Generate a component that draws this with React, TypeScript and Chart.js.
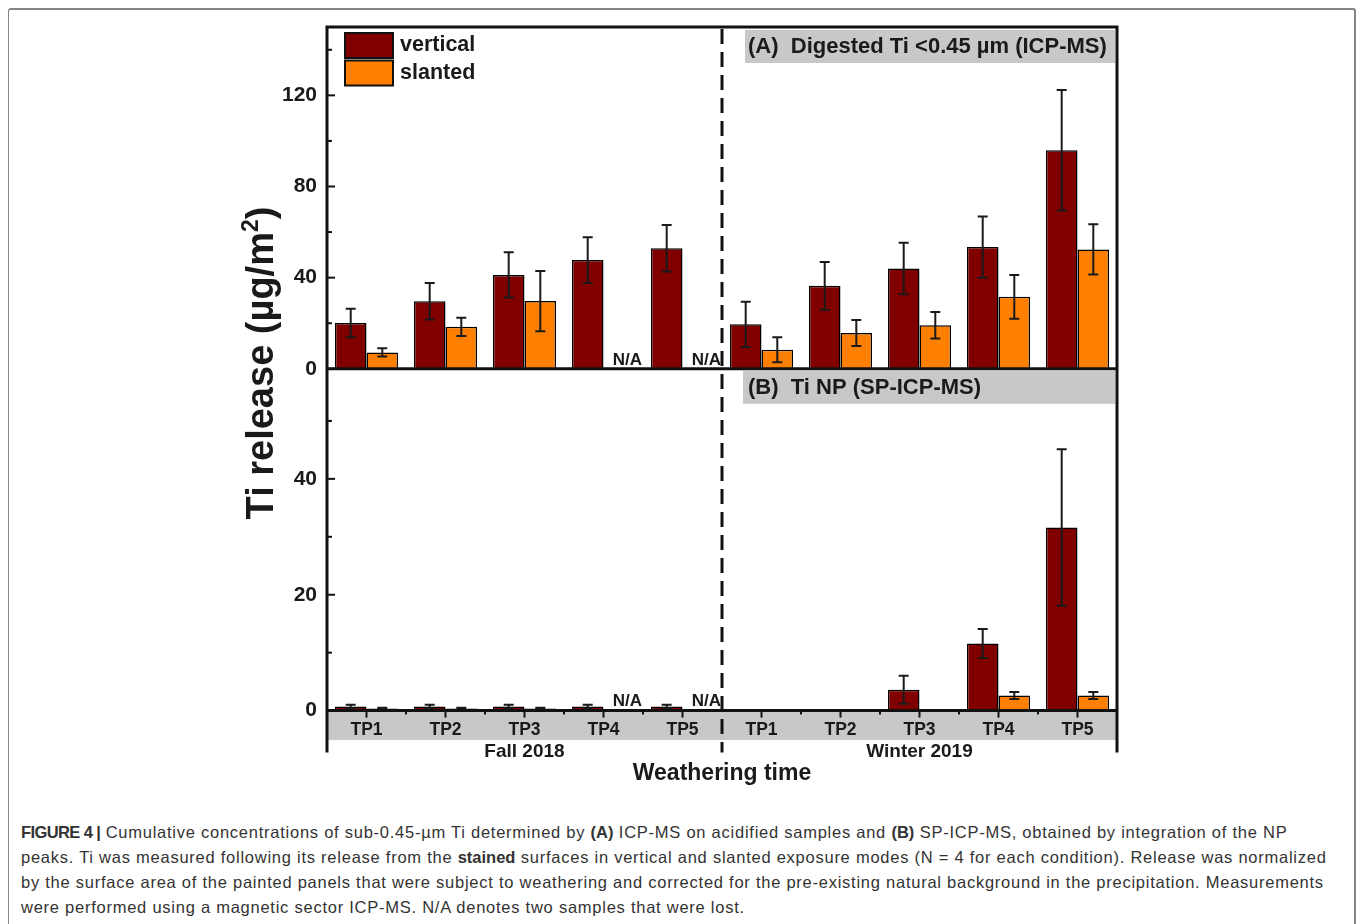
import React, { useEffect, useRef } from 'react';
import { Chart, registerables } from 'chart.js';

Chart.register(...registerables);

// ---------- data ----------
const categories = ['TP1', 'TP2', 'TP3', 'TP4', 'TP5', 'TP1', 'TP2', 'TP3', 'TP4', 'TP5'];
const seasons = ['Fall 2018', 'Winter 2019'];
const seriesNames = ['vertical', 'slanted'];
const panelLabels = ['(A)  Digested Ti <0.45 µm (ICP-MS)', '(B)  Ti NP (SP-ICP-MS)'];

// Panel A: digested Ti < 0.45 µm (ICP-MS), µg/m²
const icpVertical = [20.1, 29.6, 41.2, 47.7, 52.9, 19.5, 36.4, 44.0, 53.4, 95.9];
const icpVerticalErr = [6.3, 8.0, 9.9, 10.0, 10.2, 9.9, 10.5, 11.3, 13.4, 26.4];
const icpSlanted = [7.2, 18.4, 29.7, null, null, 8.4, 15.7, 19.1, 31.6, 52.4];
const icpSlantedErr = [1.8, 4.0, 13.2, null, null, 5.5, 5.7, 5.8, 9.6, 11.0];

// Panel B: Ti NP (SP-ICP-MS), µg/m²
const npVertical = [0.7, 0.7, 0.7, 0.7, 0.7, null, null, 3.6, 11.6, 31.6];
const npVerticalErr = [0.3, 0.3, 0.3, 0.3, 0.3, null, null, 2.4, 2.5, 13.5];
const npSlanted = [0.35, 0.35, 0.35, null, null, null, null, null, 2.6, 2.6];
const npSlantedErr = [0.15, 0.15, 0.15, null, null, null, null, null, 0.6, 0.6];

// samples that were lost (slanted, Fall TP4/TP5)
const lostSlanted = [false, false, false, true, true, false, false, false, false, false];

const axisA = { min: 0, max: 150, step: 40 };
const axisB = { min: 0, max: 59, step: 20 };

// ---------- style ----------
const FONT = "'Liberation Sans', Arial, Helvetica, sans-serif";
const INK = '#1a1a1a';
const VERT_COLOR = '#800000';
const SLANT_COLOR = '#FF8000';
const GRAY = '#c8c8c8';

const decor = {
  id: 'decor',
  beforeDatasetsDraw(chart: any) {
    const { ctx, chartArea: ca, scales } = chart;
    const yA = scales.yA;
    const x = scales.x;
    ctx.save();
    ctx.fillStyle = GRAY;
    const mid = (x.getPixelForValue(4) + x.getPixelForValue(5)) / 2;
    const boxL = mid + 23;
    const aBase = yA.getPixelForValue(0);
    ctx.fillRect(boxL, ca.top + 3, ca.right - 2 - boxL, 33);
    ctx.fillRect(boxL - 2, aBase + 2, ca.right - boxL, 33);
    ctx.fillStyle = INK;
    ctx.font = `bold 22px ${FONT}`;
    ctx.textBaseline = 'middle';
    ctx.textAlign = 'left';
    ctx.fillText(panelLabels[0], boxL + 3, ca.top + 20);
    ctx.fillText(panelLabels[1], boxL + 3, aBase + 19);
    ctx.restore();
  },
  afterDatasetsDraw(chart: any) {
    const { ctx, chartArea: ca, scales } = chart;
    const x = scales.x;
    const yA = scales.yA;
    const yB = scales.yB;
    const y0 = yB.getPixelForValue(0);
    const aBase = yA.getPixelForValue(0);
    const axisBottom = y0 + 42;
    ctx.save();

    // error bars
    ctx.strokeStyle = INK;
    ctx.lineWidth = 2;
    chart.data.datasets.forEach((ds: any, i: number) => {
      const meta = chart.getDatasetMeta(i);
      const ys = scales[ds.yAxisID];
      meta.data.forEach((el: any, j: number) => {
        const v = ds.data[j];
        const e = ds.errors ? ds.errors[j] : null;
        if (v == null || e == null) return;
        const t = ys.getPixelForValue(v + e);
        const b = ys.getPixelForValue(v - e);
        ctx.beginPath();
        ctx.moveTo(el.x, t);
        ctx.lineTo(el.x, b);
        ctx.moveTo(el.x - 5, t);
        ctx.lineTo(el.x + 5, t);
        ctx.moveTo(el.x - 5, b);
        ctx.lineTo(el.x + 5, b);
        ctx.stroke();
      });
    });

    // frame
    ctx.strokeStyle = '#111';
    ctx.lineWidth = 3;
    ctx.beginPath();
    ctx.moveTo(ca.left, axisBottom);
    ctx.lineTo(ca.left, ca.top);
    ctx.lineTo(ca.right, ca.top);
    ctx.lineTo(ca.right, axisBottom);
    ctx.moveTo(ca.left, aBase);
    ctx.lineTo(ca.right, aBase);
    ctx.moveTo(ca.left, y0);
    ctx.lineTo(ca.right, y0);
    ctx.stroke();

    // dashed separator between seasons
    const mid = (x.getPixelForValue(4) + x.getPixelForValue(5)) / 2;
    ctx.setLineDash([15, 8]);
    ctx.beginPath();
    ctx.moveTo(mid, ca.top + 2);
    ctx.lineTo(mid, axisBottom);
    ctx.stroke();
    ctx.setLineDash([]);

    // y ticks (inward)
    ctx.lineWidth = 2;
    [[yA, axisA], [yB, axisB]].forEach(([s, ax]: any) => {
      for (let v = ax.min; v <= ax.max; v += ax.step / 2) {
        const py = s.getPixelForValue(v);
        const major = (v - ax.min) % ax.step === 0;
        ctx.beginPath();
        ctx.moveTo(ca.left, py);
        ctx.lineTo(ca.left + (major ? 8 : 5), py);
        ctx.stroke();
      }
    });

    // x ticks (downward, on the bottom axis)
    const half = (x.getPixelForValue(1) - x.getPixelForValue(0)) / 2;
    for (let i = 0; i < categories.length; i++) {
      const cx = x.getPixelForValue(i);
      ctx.beginPath();
      ctx.moveTo(cx, y0);
      ctx.lineTo(cx, y0 + 7);
      ctx.stroke();
      if (i > 0 && i !== 5) {
        ctx.beginPath();
        ctx.moveTo(cx - half, y0);
        ctx.lineTo(cx - half, y0 + 4);
        ctx.stroke();
      }
    }

    // N/A labels
    ctx.fillStyle = INK;
    ctx.font = `bold 17px ${FONT}`;
    ctx.textAlign = 'center';
    ctx.textBaseline = 'middle';
    lostSlanted.forEach((lost, i) => {
      if (!lost) return;
      const px = x.getPixelForValue(i) + half * 0.4 + 8;
      ctx.fillText('N/A', px, aBase - 8);
      ctx.fillText('N/A', px, y0 - 9);
    });

    // legend
    const lx = ca.left + 18;
    const ly = ca.top + 6;
    const colors = [VERT_COLOR, SLANT_COLOR];
    ctx.font = `bold 21.5px ${FONT}`;
    ctx.textAlign = 'left';
    seriesNames.forEach((name, k) => {
      const top = ly + k * 27.5;
      ctx.fillStyle = colors[k];
      ctx.fillRect(lx, top, 48, 25);
      ctx.strokeStyle = '#111';
      ctx.lineWidth = 2;
      ctx.strokeRect(lx, top, 48, 25);
      ctx.fillStyle = INK;
      ctx.fillText(name, lx + 55, top + 12.5);
    });

    // y axis title
    ctx.save();
    ctx.translate(273, 363);
    ctx.rotate(-Math.PI / 2);
    const big = `bold 38px ${FONT}`;
    const small = `bold 23px ${FONT}`;
    ctx.font = big;
    const p1 = 'Ti release (µg/m';
    const w1 = ctx.measureText(p1).width;
    const w3 = ctx.measureText(')').width;
    ctx.font = small;
    const w2 = ctx.measureText('2').width;
    const total = w1 + w2 + w3;
    let sx = -total / 2;
    ctx.textAlign = 'left';
    ctx.textBaseline = 'alphabetic';
    ctx.fillStyle = INK;
    ctx.font = big;
    ctx.fillText(p1, sx, 0);
    sx += w1;
    ctx.font = small;
    ctx.fillText('2', sx, -15);
    sx += w2;
    ctx.font = big;
    ctx.fillText(')', sx, 0);
    ctx.restore();

    ctx.restore();
  },
};

// gray band behind the x tick labels (drawn before the axes)
const band = {
  id: 'band',
  beforeDraw(chart: any) {
    const { ctx, chartArea: ca, scales } = chart;
    const yB = scales.yB;
    if (!yB) return;
    const y0 = yB.getPixelForValue(0);
    ctx.save();
    ctx.fillStyle = GRAY;
    ctx.fillRect(ca.left, y0, ca.right - ca.left, 29.5);
    ctx.restore();
  },
};

export default function App() {
  const ref = useRef<HTMLCanvasElement>(null);

  useEffect(() => {
    const canvas = ref.current;
    if (!canvas) return;
    Chart.defaults.font.family = FONT;
    Chart.defaults.color = INK;
    const tickFont = { family: FONT, size: 21, weight: 'bold' as const };
    const noGrid = { display: false, drawTicks: false };
    const barCommon = { borderColor: '#000', borderWidth: 1.5, xAxisID: 'x' };
    const chart = new Chart(canvas, {
      type: 'bar',
      data: {
        labels: categories,
        datasets: [
          { ...barCommon, label: seriesNames[0], data: icpVertical, errors: icpVerticalErr, backgroundColor: VERT_COLOR, yAxisID: 'yA', stack: 'v' } as any,
          { ...barCommon, label: seriesNames[1], data: icpSlanted, errors: icpSlantedErr, backgroundColor: SLANT_COLOR, yAxisID: 'yA', stack: 's' } as any,
          { ...barCommon, label: seriesNames[0], data: npVertical, errors: npVerticalErr, backgroundColor: VERT_COLOR, yAxisID: 'yB', stack: 'v' } as any,
          { ...barCommon, label: seriesNames[1], data: npSlanted, errors: npSlantedErr, backgroundColor: SLANT_COLOR, yAxisID: 'yB', stack: 's' } as any,
        ],
      },
      options: {
        responsive: false,
        animation: false,
        devicePixelRatio: 1,
        layout: { padding: { left: 0, top: 27, right: 241, bottom: 10 } },
        datasets: { bar: { categoryPercentage: 0.8, barPercentage: 1.0 } },
        plugins: { legend: { display: false }, tooltip: { enabled: false }, title: { display: false } },
        scales: {
          x: {
            type: 'category',
            labels: categories,
            offset: true,
            grid: noGrid,
            border: { display: false },
            ticks: { font: { family: FONT, size: 17.5, weight: 'bold' }, color: INK, padding: 9, autoSkip: false, maxRotation: 0 },
            afterFit: (s: any) => { s.height = 29.4; },
          },
          x2: {
            type: 'category',
            labels: seasons,
            offset: true,
            position: 'bottom',
            grid: noGrid,
            border: { display: false },
            ticks: { font: { family: FONT, size: 19, weight: 'bold' }, color: INK, padding: 0, maxRotation: 0 },
            title: { display: true, text: 'Weathering time', color: INK, font: { family: FONT, size: 23, weight: 'bold' }, padding: { top: 0, bottom: 3 } },
            afterFit: (s: any) => { s.height = 50; },
          },
          yB: {
            type: 'linear',
            position: 'left',
            stack: 'panels',
            stackWeight: 1,
            min: axisB.min,
            max: axisB.max,
            grid: noGrid,
            border: { display: false },
            ticks: { stepSize: axisB.step, includeBounds: false, padding: 10, font: tickFont, color: INK },
            afterFit: (s: any) => { s.width = 327; },
          },
          yA: {
            type: 'linear',
            position: 'left',
            stack: 'panels',
            stackWeight: 1,
            min: axisA.min,
            max: axisA.max,
            grid: noGrid,
            border: { display: false },
            ticks: { stepSize: axisA.step, includeBounds: false, padding: 10, font: tickFont, color: INK },
            afterFit: (s: any) => { s.width = 327; },
          },
        } as any,
      },
      plugins: [band, decor],
    });
    return () => chart.destroy();
  }, []);

  const capStyle: React.CSSProperties = {
    position: 'absolute',
    left: 21,
    top: 820,
    font: `16.5px ${FONT}`,
    lineHeight: '25px',
    letterSpacing: '0.75px',
    color: '#333',
    whiteSpace: 'nowrap',
  };
  const boldTight: React.CSSProperties = { letterSpacing: 0 };
  const boldFig: React.CSSProperties = { letterSpacing: '-0.6px' };

  return (
    <div style={{ position: 'fixed', left: 0, top: 0, width: 1358, height: 924, overflow: 'hidden', background: '#fff' }}>
      <div
        style={{
          position: 'absolute',
          left: 8,
          top: 8,
          width: 1348,
          height: 940,
          boxSizing: 'border-box',
          border: '2px solid #858585',
          borderLeftWidth: 1.5,
          borderRadius: 3,
        }}
      />
      <canvas ref={ref} width={1358} height={800} style={{ position: 'absolute', left: 0, top: 0, width: 1358, height: 800 }} />
      <div style={capStyle}>
        <b style={boldFig}>FIGURE 4 |</b> Cumulative concentrations of sub-0.45-µm Ti determined by <b style={boldTight}>(A)</b> ICP-MS on acidified samples and <b style={boldTight}>(B)</b> SP-ICP-MS, obtained by integration of the NP
        <br />
        peaks. Ti was measured following its release from the <b style={boldTight}>stained</b> surfaces in vertical and slanted exposure modes (N = 4 for each condition). Release was normalized
        <br />
        by the surface area of the painted panels that were subject to weathering and corrected for the pre-existing natural background in the precipitation. Measurements
        <br />
        were performed using a magnetic sector ICP-MS. N/A denotes two samples that were lost.
      </div>
    </div>
  );
}
